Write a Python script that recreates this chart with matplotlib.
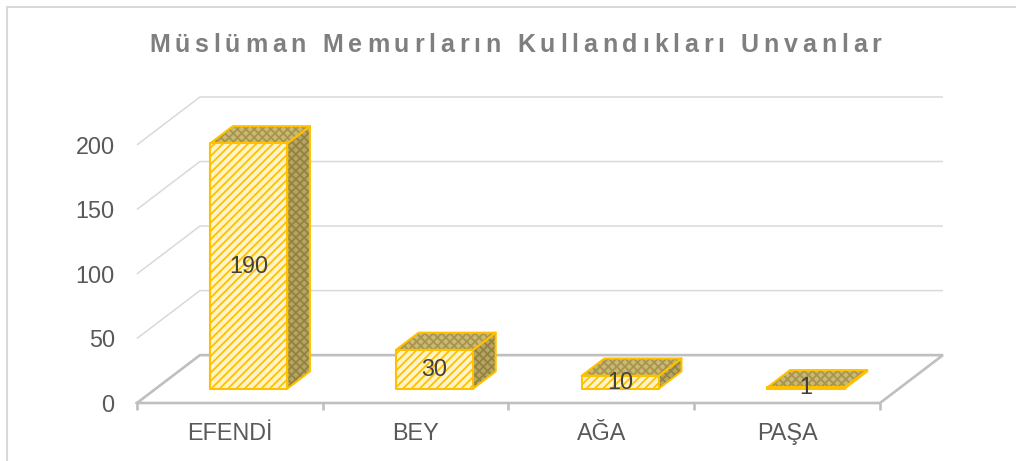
import matplotlib
matplotlib.use('Agg')
import matplotlib.pyplot as plt
from matplotlib.patches import Polygon, Rectangle
from matplotlib.text import Text
from matplotlib.transforms import IdentityTransform

# ---- data ----
categories = ['EFENDİ', 'BEY', 'AĞA', 'PAŞA']
values = [190, 30, 10, 1]
y_ticks = [0, 50, 100, 150, 200]
title = 'Müslüman Memurların Kullandıkları Unvanlar'

plt.rcParams['font.family'] = ['Liberation Sans', 'DejaVu Sans']
plt.rcParams['hatch.linewidth'] = 1.3

# oblique "3D" geometry (data units)
DX, DY = 0.339, 37.1      # full floor depth offset
D0, D1 = 0.30, 0.66       # bar front/back depth fractions
BW = 0.415                # bar width (category units)

GRID_C = '#d9d9d9'
FLOOR_C = '#bfbfbf'
GOLD = '#ffc000'
TXT_C = '#595959'


class TrackedText(Text):
    """Text drawn with extra letter spacing (tracking, in pixels)."""
    def __init__(self, *args, tracking=0.0, **kw):
        super().__init__(*args, **kw)
        self._tracking = tracking

    def draw(self, renderer):
        if not self.get_visible():
            return
        fp = self.get_fontproperties()
        chars = self.get_text()
        widths = [renderer.get_text_width_height_descent(c, fp, ismath=False)[0]
                  for c in chars]
        total = sum(widths) + self._tracking * (len(chars) - 1)
        px, py = self.get_transform().transform((self._x, self._y))
        x = px - total / 2
        for c, w in zip(chars, widths):
            t = Text(x, py, c, fontproperties=fp, color=self.get_color(),
                     ha='left', va=self.get_va(), transform=IdentityTransform())
            t.set_figure(self.figure)
            t.draw(renderer)
            x += w + self._tracking


fig = plt.figure(figsize=(10.16, 4.61), dpi=100)
ax = fig.add_axes([0.1348, 0.1258, 0.7933, 0.6638])
n = len(categories)
ax.set_xlim(-0.5, n - 0.5 + DX)
ax.set_ylim(0, max(y_ticks) + DY)

xl, xr = -0.5, n - 0.5
for v in y_ticks[1:]:
    ax.plot([xl, xl + DX, xr + DX], [v, v + DY, v + DY], color=GRID_C, lw=1.1,
            clip_on=False, zorder=1, solid_capstyle='butt')
ax.plot([xl, xl + DX, xr + DX, xr, xl], [0, DY, DY, 0, 0], color=FLOOR_C,
        lw=1.9, clip_on=False, zorder=1.5, solid_joinstyle='miter')


def face(pts, base, hcol, hatch, z):
    ax.add_patch(Polygon(pts, closed=True, facecolor=base, edgecolor='none',
                         lw=0, zorder=z))
    ax.add_patch(Polygon(pts, closed=True, facecolor='none', edgecolor=hcol,
                         lw=0, hatch=hatch, zorder=z))
    ax.add_patch(Polygon(pts, closed=True, facecolor='none', edgecolor=GOLD,
                         lw=1.5, joinstyle='round', zorder=z))


ox, oy = (D1 - D0) * DX, (D1 - D0) * DY
for i, v in enumerate(values):
    x0 = i - BW / 2 + D0 * DX
    x1 = x0 + BW
    y0 = D0 * DY
    y1 = y0 + v
    side = [(x1, y0), (x1 + ox, y0 + oy), (x1 + ox, y1 + oy), (x1, y1)]
    top = [(x0, y1), (x1, y1), (x1 + ox, y1 + oy), (x0 + ox, y1 + oy)]
    front = [(x0, y0), (x1, y0), (x1, y1), (x0, y1)]
    face(side, '#b5a566', '#94823f', 'xxxx', 3)
    face(top, '#c9b977', '#a8944a', 'xxxx', 3)
    face(front, '#fff3c8', GOLD, '////', 4)
    ax.text((x0 + x1) / 2, (y0 + y1) / 2, str(v), ha='center', va='center',
            fontsize=16.8, color='#404040', zorder=10)

# axes / ticks
for s in ax.spines.values():
    s.set_visible(False)
ax.patch.set_visible(False)
ax.set_yticks(y_ticks)
ax.set_yticklabels([str(t) for t in y_ticks])
ax.tick_params(axis='y', length=0, pad=16, labelsize=16.8, labelcolor=TXT_C)
ax.set_xticks([i - 0.5 for i in range(n + 1)])
ax.set_xticklabels([])
ax.tick_params(axis='x', which='major', length=5, width=1.9, color=FLOOR_C,
               direction='out')
ax.set_xticks(range(n), minor=True)
ax.set_xticklabels(categories, minor=True)
ax.tick_params(axis='x', which='minor', length=0, pad=14, labelsize=16.8,
               labelcolor=TXT_C)

# title with letter spacing
tt = TrackedText(0.507, 0.888, title, tracking=4.8, fontsize=18, fontweight='bold',
                 color='#7f7f7f', ha='center', va='baseline',
                 transform=fig.transFigure)
fig.add_artist(tt)

# chart border (only top/left edges visible)
fig.add_artist(Rectangle((7 / 1016, -0.1), 1.2, 1 - 7 / 461 + 0.1,
                         transform=fig.transFigure, fill=False,
                         edgecolor=GRID_C, lw=1.5))

fig.savefig('out.png', dpi=100)
